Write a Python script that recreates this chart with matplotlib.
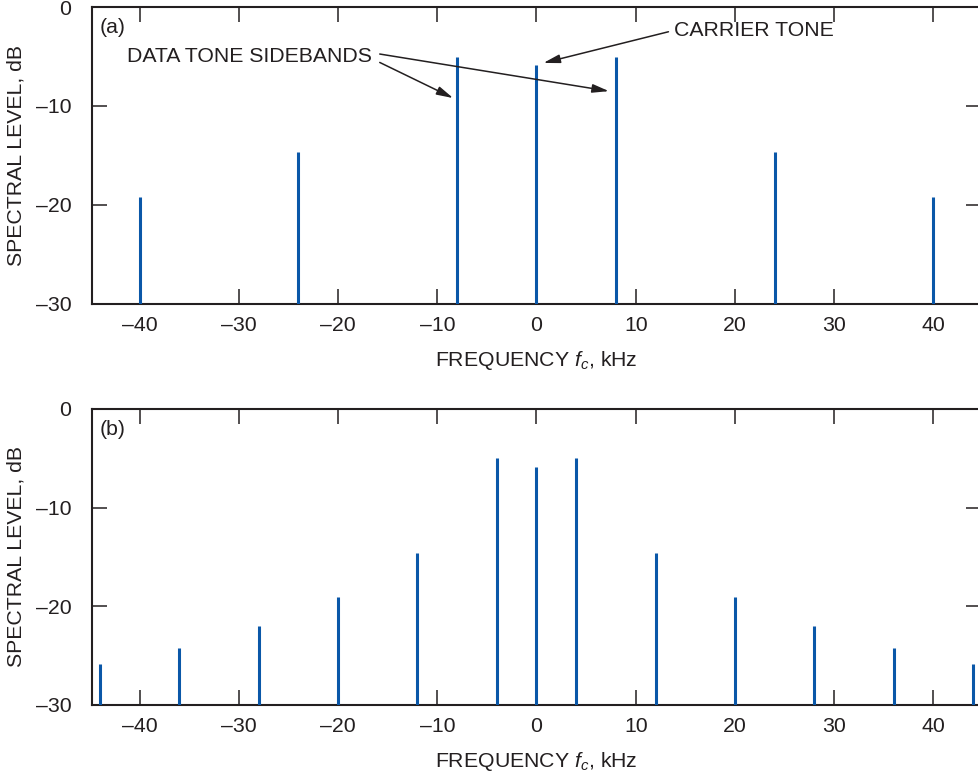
import matplotlib
matplotlib.use('Agg')
import matplotlib.pyplot as plt
from matplotlib.ticker import FixedLocator, FixedFormatter

plt.rcParams['font.family'] = ['Liberation Sans', 'DejaVu Sans']
plt.rcParams['mathtext.fontset'] = 'custom'
plt.rcParams['mathtext.it'] = 'Liberation Sans:italic'
plt.rcParams['mathtext.rm'] = 'Liberation Sans'

# Spectral lines, (a) and (b)
freq_a = [-40, -24, -8, 0, 8, 24, 40]
level_a = [-19.2, -14.6, -5.0, -5.9, -5.0, -14.6, -19.2]

freq_b = [-44, -36, -28, -20, -12, -4, 0, 4, 12, 20, 28, 36, 44]
level_b = [-25.8, -24.2, -22.0, -19.1, -14.6, -5.0, -5.9, -5.0, -14.6, -19.1, -22.0, -24.2, -25.8]

x_ticks = [-40, -30, -20, -10, 0, 10, 20, 30, 40]
x_tick_labels = ['\u201340', '\u201330', '\u201320', '\u201310', '0', '10', '20', '30', '40']
y_ticks = [-30, -20, -10, 0]
y_tick_labels = ['\u201330', '\u201320', '\u201310', '0']

LINE_COLOR = '#0a57a8'
INK = '#231f20'
FS = 15.3


def style_axes(ax):
    ax.set_xlim(-44.8, 44.8)
    ax.set_ylim(-30, 0)
    ax.xaxis.set_major_locator(FixedLocator(x_ticks))
    ax.xaxis.set_major_formatter(FixedFormatter(x_tick_labels))
    ax.yaxis.set_major_locator(FixedLocator(y_ticks))
    ax.yaxis.set_major_formatter(FixedFormatter(y_tick_labels))
    ax.tick_params(direction='in', length=11, width=1.1, color=INK,
                   top=True, right=True, labelsize=FS, labelcolor=INK)
    ax.tick_params(axis='x', pad=8.5)
    ax.tick_params(axis='y', pad=15)
    for sp in ax.spines.values():
        sp.set_linewidth(1.5)
        sp.set_color(INK)
    ax.set_ylabel('SPECTRAL LEVEL, dB', fontsize=FS, color=INK, labelpad=7)
    ax.set_xlabel(r'FREQUENCY $f_c$, kHz', fontsize=FS, color=INK, labelpad=10)


fig = plt.figure(figsize=(9.79, 7.79), dpi=100)
ax_a = fig.add_axes([0.094, 0.6098, 0.908, 0.3812])
ax_b = fig.add_axes([0.094, 0.095, 0.908, 0.380])

ax_a.vlines(freq_a, -30, level_a, color=LINE_COLOR, linewidth=2.2, zorder=3)
ax_b.vlines(freq_b, -30, level_b, color=LINE_COLOR, linewidth=2.2, zorder=3)

for ax in (ax_a, ax_b):
    style_axes(ax)

ax_a.text(-44.0, -2.1, '(a)', fontsize=FS, color=INK, va='center', ha='left')
ax_b.text(-44.0, -2.1, '(b)', fontsize=FS, color=INK, va='center', ha='left')

# Annotations on (a)
ax_a.text(-41.3, -5.0, 'DATA TONE SIDEBANDS', fontsize=FS, color=INK,
          va='center', ha='left')
ax_a.text(13.9, -2.4, 'CARRIER TONE', fontsize=FS, color=INK,
          va='center', ha='left')

arrow_kw = dict(arrowstyle='-|>,head_length=0.5,head_width=0.13',
                color=INK, lw=1.1, mutation_scale=20, shrinkA=0, shrinkB=0)
ax_a.annotate('', xy=(-8.4, -9.2), xytext=(-15.8, -5.6), arrowprops=arrow_kw)
ax_a.annotate('', xy=(7.3, -8.5), xytext=(-15.8, -4.75), arrowprops=arrow_kw)
ax_a.annotate('', xy=(0.7, -5.65), xytext=(13.3, -2.5), arrowprops=arrow_kw)

fig.savefig('out.png', dpi=100)
